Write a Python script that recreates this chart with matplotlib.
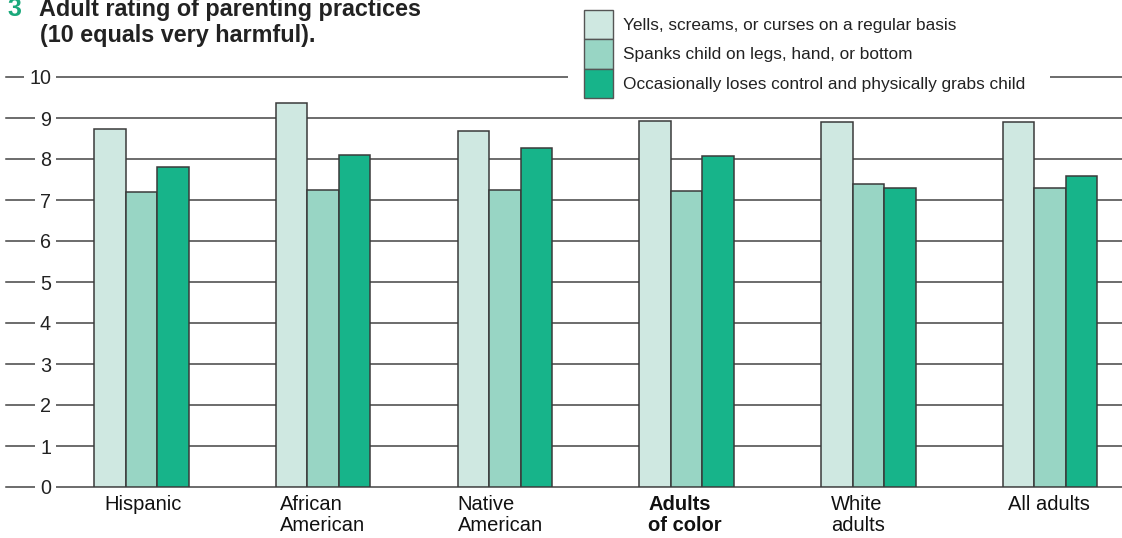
import matplotlib
matplotlib.use('Agg')
import matplotlib.pyplot as plt
from matplotlib.patches import Rectangle
import numpy as np

plt.rcParams['font.family'] = ['Liberation Sans', 'DejaVu Sans']

categories = ['Hispanic', 'African\nAmerican', 'Native\nAmerican', 'Adults\nof color', 'White\nadults', 'All adults']
bold_cat = [False, False, False, True, False, False]
series_names = ['Yells, screams, or curses on a regular basis',
                'Spanks child on legs, hand, or bottom',
                'Occasionally loses control and physically grabs child']
yells = [8.74, 9.37, 8.68, 8.93, 8.90, 8.90]
spanks = [7.19, 7.24, 7.24, 7.22, 7.39, 7.29]
grabs = [7.81, 8.09, 8.27, 8.07, 7.29, 7.59]
colors = ['#cfe8e1', '#98d5c4', '#17b48a']
edge = '#3a3a3a'

W, H = 1122, 538
fig = plt.figure(figsize=(W / 100, H / 100), dpi=100)
# axes spans from first gridline pixel to right edge, zero line to 10 line
ax = fig.add_axes([58 / W, (H - 487) / H, (W - 58) / W, 410 / H])

x = np.arange(len(categories))
bw = 0.1734
for i, vals in enumerate([yells, spanks, grabs]):
    ax.bar(x + (i - 1) * bw, vals, bw, color=colors[i], edgecolor=edge, linewidth=1.1, zorder=3)

ax.set_xlim(-0.4595, 5.396)
ax.set_ylim(0, 10)
for s in ax.spines.values():
    s.set_visible(False)
ax.set_xticks([])
ax.set_yticks(range(11))
ax.set_yticklabels([str(v) for v in range(11)], fontsize=14.2, color='#222222')
ax.tick_params(axis='y', length=0, pad=5)
for lab in ax.get_yticklabels():
    lab.set_bbox(dict(facecolor='white', edgecolor='none', pad=3.6))
    lab.set_zorder(4)
# gridlines run from the far left, the white label boxes cut the gap
for v in range(11):
    ax.plot([-0.0489, 1], [v, v], transform=ax.get_yaxis_transform(),
            color='#444444', linewidth=1.1, clip_on=False, zorder=1)

label_off = [0.055, 0.022, 0.0, 0.05, 0.055, 0.027]
for i, c in enumerate(categories):
    ax.text(x[i] - 1.5 * bw + label_off[i], -0.2, c, ha='left', va='top',
            fontsize=14.5, linespacing=1.15, color='#111111',
            fontweight='bold' if bold_cat[i] else 'normal')

# title (top of first line is cropped in the original too)
fig.text(7 / W, 1 - 16 / H, '3', color='#1aa97b', fontsize=18, fontweight='bold', va='baseline')
fig.text(39 / W, 1 - 16 / H, 'Adult rating of parenting practices', fontsize=16.8,
         fontweight='bold', va='baseline', color='#222222')
fig.text(40 / W, 1 - 42 / H, '(10 equals very harmful).', fontsize=16.8,
         fontweight='bold', va='baseline', color='#222222')

# legend block (white backing hides the 10 gridline)
fig.add_artist(Rectangle((568 / W, 1 - 104 / H), (1050 - 568) / W, 100 / H,
                         transform=fig.transFigure, facecolor='white', edgecolor='none', zorder=5))
for i, name in enumerate(series_names):
    top = 10 + i * 29.3
    fig.add_artist(Rectangle((584 / W, 1 - (top + 29.3) / H), 29 / W, 29.3 / H,
                             transform=fig.transFigure, facecolor=colors[i],
                             edgecolor='#555555', linewidth=1.0, zorder=6))
    fig.text(623 / W, 1 - (top + 15.5) / H, name, fontsize=12.4, va='center',
             color='#222222', zorder=7)

plt.savefig('out.png', dpi=100)
